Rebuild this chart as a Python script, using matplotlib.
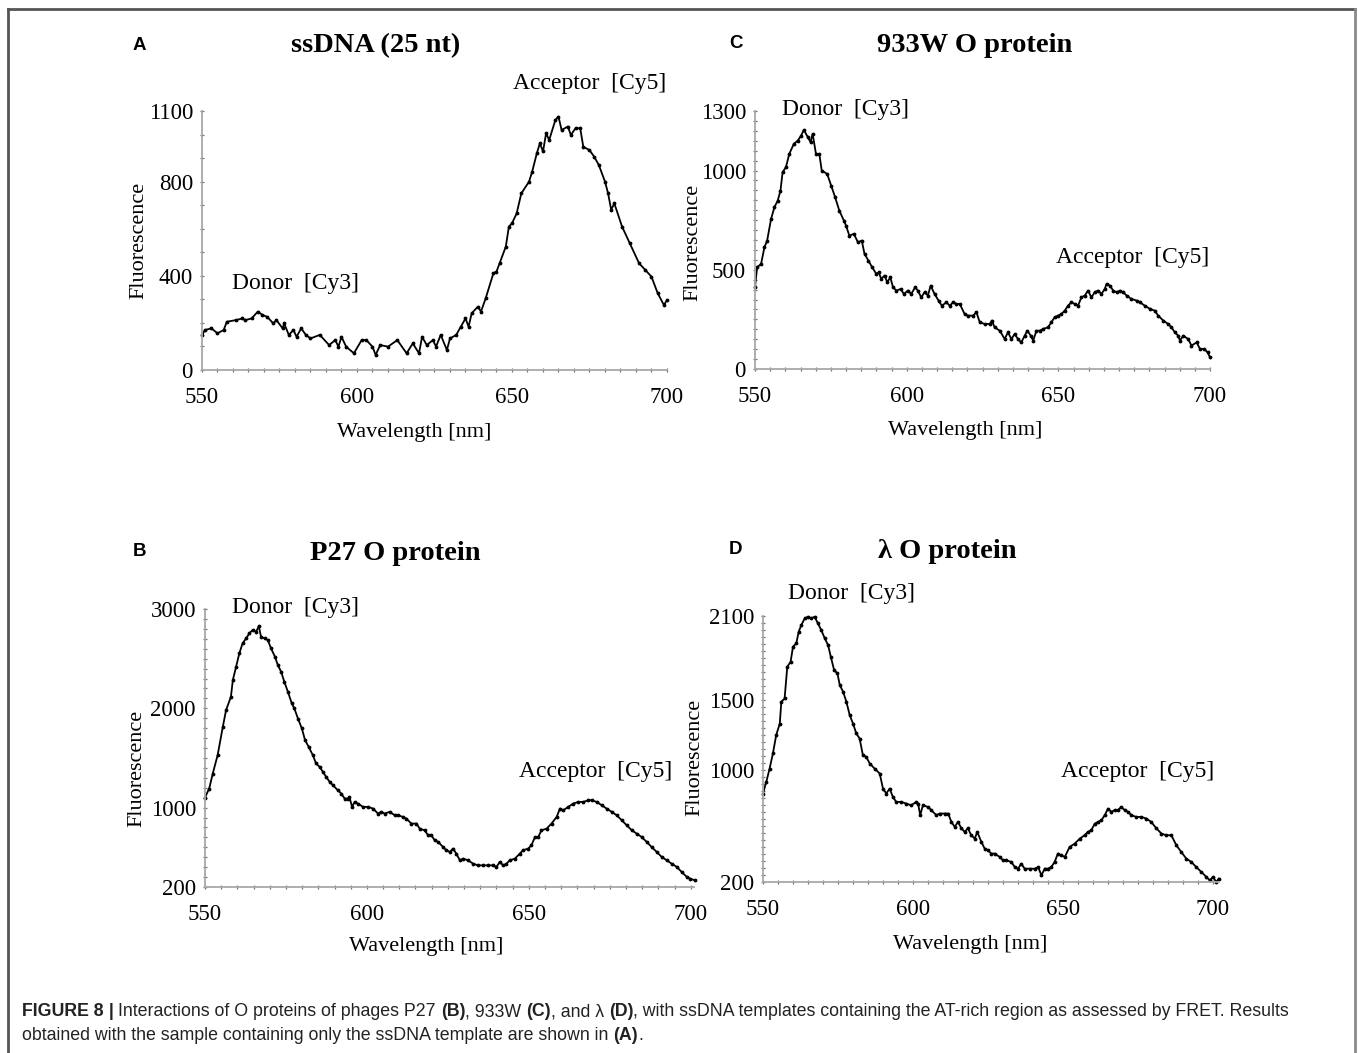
import matplotlib
matplotlib.use("Agg")
import matplotlib.pyplot as plt
from matplotlib.ticker import MultipleLocator
from matplotlib.lines import Line2D

W, H = 1358, 1053

# A: ssDNA (25 nt)
wl_a = [550, 551, 553, 555, 557, 558, 561, 563, 564, 566, 568, 569.5, 571, 573, 574, 576, 576.5, 578,
        579.5, 580.5, 582, 583.5, 585, 588, 591, 593, 594, 595, 596.5, 599, 601.5, 603, 605, 606, 607.5,
        610, 613, 616, 618, 620, 621, 622.5, 624.5, 625.5, 627, 629, 630, 632, 633.5, 635, 636, 637, 639,
        640, 641.5, 644, 645, 646, 648, 649, 650, 651.5, 653, 655.5, 656.5, 658, 659, 660, 661, 662, 664,
        665, 666, 668, 669, 670.5, 672, 673, 675, 676.5, 678, 680, 681, 682, 683, 685.5, 688, 691, 693,
        695, 697, 699, 700]
fl_a = [149, 170, 177, 156, 170, 205, 212, 219, 212, 219, 248, 234, 226, 198, 212, 177, 198, 149,
        170, 141, 177, 149, 134, 149, 106, 127, 99, 141, 99, 71, 127, 127, 99, 64, 106,
        99, 127, 71, 113, 71, 141, 106, 127, 99, 149, 85, 134, 149, 184, 219, 184, 241, 269,
        248, 304, 411, 418, 453, 524, 609, 623, 665, 750, 800, 842, 920, 963, 928, 1005, 977, 1062,
        1076, 1019, 1034, 998, 1027, 1027, 948, 934, 906, 871, 800, 750, 680, 708, 609, 538, 453, 425,
        396, 326, 276, 297]

# C: 933W O protein
wl_c = [550, 550.7, 552, 553.1, 554, 555.3, 556.4, 557.5, 558.4, 559.1, 560.2, 561.3, 562.8, 564.1,
        565.2, 566.1, 567.4, 568.3, 569, 570.1, 571.2, 572, 573.8, 575.1, 576.4, 577.8, 579.3, 580,
        581.1, 582.6, 583.9, 585.2, 586.1, 587.4, 588.6, 590, 590.8, 591.6, 592.7, 593.6, 594.6, 595.5,
        596.6, 598, 599.1, 600.4, 601.5, 602.8, 603.7, 604.8, 605.9, 607, 607.9, 609.2, 610.5, 611.6,
        613.1, 614.2, 615.3, 616.4, 617.5, 619.1, 620.2, 621.9, 623, 624.1, 625.7, 627.4, 628.1, 629,
        630.7, 632.3, 633.4, 634.5, 635.6, 636.7, 637.8, 638.9, 639.8, 640.9, 641.7, 642.8, 643.9, 645,
        646.6, 647.7, 648.8, 649.9, 651, 652.1, 653.2, 654.3, 655.4, 656.5, 657.6, 658.7, 659.8, 660.9,
        662, 663.1, 664.2, 665.3, 665.9, 667, 668.1, 669.2, 670.3, 671.4, 672.5, 674.1, 675.8, 676.9,
        678.5, 680.2, 681.8, 682.9, 684.6, 686.2, 687.3, 688.4, 689.5, 690.1, 691.2, 692.8, 693.9,
        695.6, 696.7, 698.1, 699.2, 700]
fl_c = [412, 513, 529, 613, 647, 756, 815, 849, 899, 992, 1017, 1084, 1134, 1151,
        1176, 1205, 1168, 1143, 1185, 1084, 1084, 1000, 983, 924, 866, 798, 748, 723,
        672, 681, 639, 647, 580, 546, 513, 479, 487, 454, 471, 437, 462, 412,
        395, 403, 378, 395, 378, 412, 395, 361, 387, 370, 420, 378, 345, 319,
        336, 319, 336, 328, 328, 277, 269, 269, 286, 235, 227, 227, 244, 210,
        193, 151, 185, 151, 176, 151, 134, 168, 193, 168, 143, 193, 193, 202,
        210, 235, 261, 269, 277, 294, 319, 336, 328, 319, 361, 370, 395, 361,
        387, 395, 378, 403, 429, 420, 395, 387, 395, 387, 370, 353, 345, 336,
        319, 303, 294, 269, 244, 227, 210, 185, 168, 143, 168, 151, 118,
        134, 101, 101, 84, 59]

# B: P27 O protein
wl_b = [550, 551.3, 552.4, 553.9, 555.5, 556.5, 558, 558.6, 559.6, 560.6, 561.6, 562.7, 563.7, 564.7,
        565.8, 566.6, 567.3, 568.4, 569.4, 570.4, 571.6, 572.5, 573.5, 574.5, 575.6, 576.8, 577.6,
        578.7, 579.9, 580.9, 582, 583.3, 584.3, 585.4, 586.4, 587.4, 588.5, 589.5, 591, 592.1, 593.1,
        594.1, 594.6, 595.4, 596.2, 597.2, 598.8, 600.3, 601.9, 603.4, 604.4, 605.5, 607, 608.6, 609.6,
        611.1, 612.2, 613.7, 615.3, 616.3, 617.8, 618.9, 619.9, 620.9, 622, 623.5, 624.5, 625.6, 626.6,
        627.6, 628.7, 629.7, 631.2, 632.8, 634.3, 635.9, 637.4, 639, 640, 641, 642.1, 643.1, 644.1,
        645.7, 647.2, 648.2, 649.8, 650.8, 651.9, 652.9, 653.9, 655.5, 657, 658.6, 659.6, 660.6, 662.2,
        663.7, 665.3, 666.8, 668.4, 669.4, 670.9, 672.5, 674, 675.6, 677.1, 678.7, 680.2, 681.8, 683.3,
        684.8, 686.4, 687.9, 689.5, 691, 692.6, 694.1, 695.7, 697.2, 698.8, 699.8, 701.3]
fl_b = [1101, 1192, 1343, 1528, 1813, 1981, 2116, 2284, 2418, 2553, 2654, 2704, 2755, 2788,
        2771, 2828, 2721, 2704, 2687, 2603, 2519, 2435, 2368, 2267, 2166, 2049, 1998,
        1897, 1797, 1679, 1612, 1528, 1444, 1410, 1360, 1309, 1259, 1225, 1175, 1141, 1091,
        1091, 1108, 1007, 1057, 1040, 1007, 1007, 990, 940, 957, 940, 957, 923, 923,
        906, 889, 839, 839, 788, 771, 721, 721, 671, 654, 603, 570, 553, 587,
        536, 469, 486, 469, 435, 418, 418, 418, 418, 402, 452, 418, 435, 469,
        486, 536, 570, 587, 620, 704, 704, 771, 788, 839, 906, 990, 973, 1007,
        1040, 1057, 1057, 1074, 1074, 1057, 1024, 990, 957, 923, 872, 822, 771, 738,
        704, 654, 603, 553, 503, 469, 435, 402, 351, 301, 284, 267]

# D: lambda O protein
wl_d = [550, 551.1, 552.2, 553.3, 554.4, 555.6, 556.1, 557.2, 558.1, 559.2, 560, 561.1, 561.9, 562.8,
        563.9, 565, 566.1, 567.2, 568.3, 569.4, 570.6, 571.7, 572.6, 573.7, 574.8, 575.6, 576.7, 577.8,
        578.9, 580, 581.1, 582.2, 583.3, 584.4, 585.6, 587.2, 588.9, 590, 591.1, 592.2, 593.3, 594.4,
        596.1, 597.8, 599.4, 601.1, 601.7, 602.4, 603.3, 605, 606.1, 607.8, 608.9, 610.6, 611.7, 612.8,
        613.9, 615, 616.1, 617.2, 618.3, 619.4, 620.6, 621.4, 622.8, 623.9, 625, 626.1, 627.2, 628.9,
        630, 631.1, 632.8, 633.9, 635, 636.1, 637.2, 638.9, 640.6, 641.7, 642.8, 643.9, 645, 646.1,
        647.2, 648.3, 649.4, 650.6, 652.2, 653.9, 655.6, 657.2, 658.3, 659.4, 660.6, 661.7, 662.8,
        663.9, 665, 666.1, 667.2, 668.3, 669.4, 670.6, 671.7, 672.8, 674.4, 676.1, 677.8, 679.4, 681.1,
        682.8, 684.4, 686.1, 687.8, 689.4, 691.1, 692.8, 694.4, 696.1, 697.8, 698.9, 700, 701.1, 701.9]
fl_d = [832, 915, 1010, 1118, 1249, 1332, 1487, 1511, 1738, 1773, 1881, 1904, 1988, 2036,
        2083, 2095, 2083, 2095, 2047, 2000, 1940, 1892, 1809, 1714, 1690, 1606, 1559, 1487,
        1392, 1332, 1261, 1225, 1106, 1094, 1046, 1010, 975, 867, 832, 867, 808, 772,
        772, 760, 748, 772, 760, 677, 748, 736, 713, 677, 689, 689, 689, 629,
        594, 629, 584, 558, 584, 534, 510, 558, 486, 438, 426, 403, 403, 379,
        355, 355, 343, 307, 295, 331, 295, 295, 295, 307, 248, 295, 295, 307,
        343, 403, 391, 379, 450, 474, 510, 534, 558, 569, 617, 629, 641,
        677, 724, 701, 713, 713, 736, 713, 701, 677, 665, 665, 653, 629, 584,
        546, 534, 534, 462, 415, 367, 343, 307, 272, 236, 212, 236, 200, 224]

x_ticks = [550, 600, 650, 700]

plt.rcParams['font.family'] = ['Liberation Serif', 'DejaVu Serif']

fig = plt.figure(figsize=(W / 100, H / 100), dpi=100)


def fx(x):
    return x / W


def fy(y):
    return 1 - y / H


def panel(box, wl, fl, xlim, ylim, yticks, yminor):
    left, top, right, bottom = box
    ax = fig.add_axes([fx(left), fy(bottom), (right - left) / W, (bottom - top) / H])
    ax.plot(wl, fl, color='black', lw=1.3, marker='.', ms=3.5, clip_on=False)
    ax.set_xlim(*xlim)
    ax.set_ylim(*ylim)
    ax.set_xticks(x_ticks)
    ax.set_yticks(yticks)
    ax.xaxis.set_minor_locator(MultipleLocator(5))
    ax.yaxis.set_minor_locator(MultipleLocator(yminor))
    for s in ['top', 'right']:
        ax.spines[s].set_visible(False)
    for s in ['left', 'bottom']:
        ax.spines[s].set_color('#a8a8a8')
        ax.spines[s].set_linewidth(1.3)
    ax.tick_params(which='both', direction='inout', length=3, width=0.9, color='#707070',
                   labelsize=16.5)
    ax.tick_params(axis='x', pad=11)
    ax.tick_params(axis='y', pad=5)
    return ax


def label(x, y, s, size=15.5, **kw):
    fig.text(fx(x), fy(y), s, ha='center', va='center', fontsize=size, **kw)


panel((202, 111, 667, 370), wl_a, fl_a, (550, 700), (0, 1100), [0, 400, 800, 1100], 100)
panel((755, 111, 1210, 369), wl_c, fl_c, (550, 700), (0, 1300), [0, 500, 1000, 1300], 50)
panel((205, 609, 694, 887), wl_b, fl_b, (550, 701), (200, 3000), [200, 1000, 2000, 3000], 100)
panel((763, 616, 1219, 882), wl_d, fl_d, (550, 702), (200, 2100), [200, 1000, 1500, 2100], 50)

letters = [('A', 139, 45), ('C', 736, 44), ('B', 139, 552), ('D', 735, 550)]
for s, x, y in letters:
    label(x, y, s, size=13.5, family=['Liberation Sans', 'DejaVu Sans'], weight='bold')

titles = [('ssDNA (25 nt)', 376, 46), ('933W O protein', 975, 46),
          ('P27 O protein', 395, 553), ('λ O protein', 947, 551)]
for s, x, y in titles:
    label(x, y, s, size=20.5, weight='bold')

notes = [('Acceptor  [Cy5]', 590, 84), ('Donor  [Cy3]', 296, 283),
         ('Donor  [Cy3]', 846, 110), ('Acceptor  [Cy5]', 1133, 258),
         ('Donor  [Cy3]', 296, 607), ('Acceptor  [Cy5]', 596, 771),
         ('Donor  [Cy3]', 852, 593), ('Acceptor  [Cy5]', 1138, 771)]
for s, x, y in notes:
    label(x, y, s, size=17)

for x, y in [(139, 240), (693, 242), (137, 768), (695, 757)]:
    label(x, y, 'Fluorescence', rotation=90, size=16)
for x, y in [(414, 433), (965, 430), (426, 947), (970, 945)]:
    label(x, y, 'Wavelength [nm]', size=16)

# frame around the figure
frame = [([8, 8], [9, 1053], '#555555'), ([8, 1355], [9, 9], '#555555'),
         ([1355, 1355], [9, 1053], '#8a8a8a')]
for xs, ys, c in frame:
    fig.add_artist(Line2D([fx(v) for v in xs], [fy(v) for v in ys], color=c, lw=2))

# caption, mixed bold and regular
renderer = fig.canvas.get_renderer()
cap_font = ['Liberation Sans', 'DejaVu Sans']
cap_size = 12.8
cap_lines = [
    (1012, [('FIGURE 8', 'bold'), (' | ', 'bold'),
            ('Interactions of O proteins of phages P27 ', 'normal'), ('(B)', 'bold'),
            (', 933W ', 'normal'), ('(C)', 'bold'), (', and λ ', 'normal'), ('(D)', 'bold'),
            (', with ssDNA templates containing the AT-rich region as assessed by FRET. Results',
             'normal')]),
    (1036, [('obtained with the sample containing only the ssDNA template are shown in ', 'normal'),
            ('(A)', 'bold'), ('.', 'normal')]),
]
for y, segs in cap_lines:
    x = 22
    for s, w in segs:
        fig.text(fx(x), fy(y), s, ha='left', va='center', fontsize=cap_size, family=cap_font,
                 weight=w, color='#222222')
        t1 = fig.text(0, 0, s + '|', fontsize=cap_size, family=cap_font, weight=w)
        t2 = fig.text(0, 0, '|', fontsize=cap_size, family=cap_font, weight=w)
        x += t1.get_window_extent(renderer).width - t2.get_window_extent(renderer).width
        t1.remove()
        t2.remove()

fig.savefig('out.png', dpi=100)
